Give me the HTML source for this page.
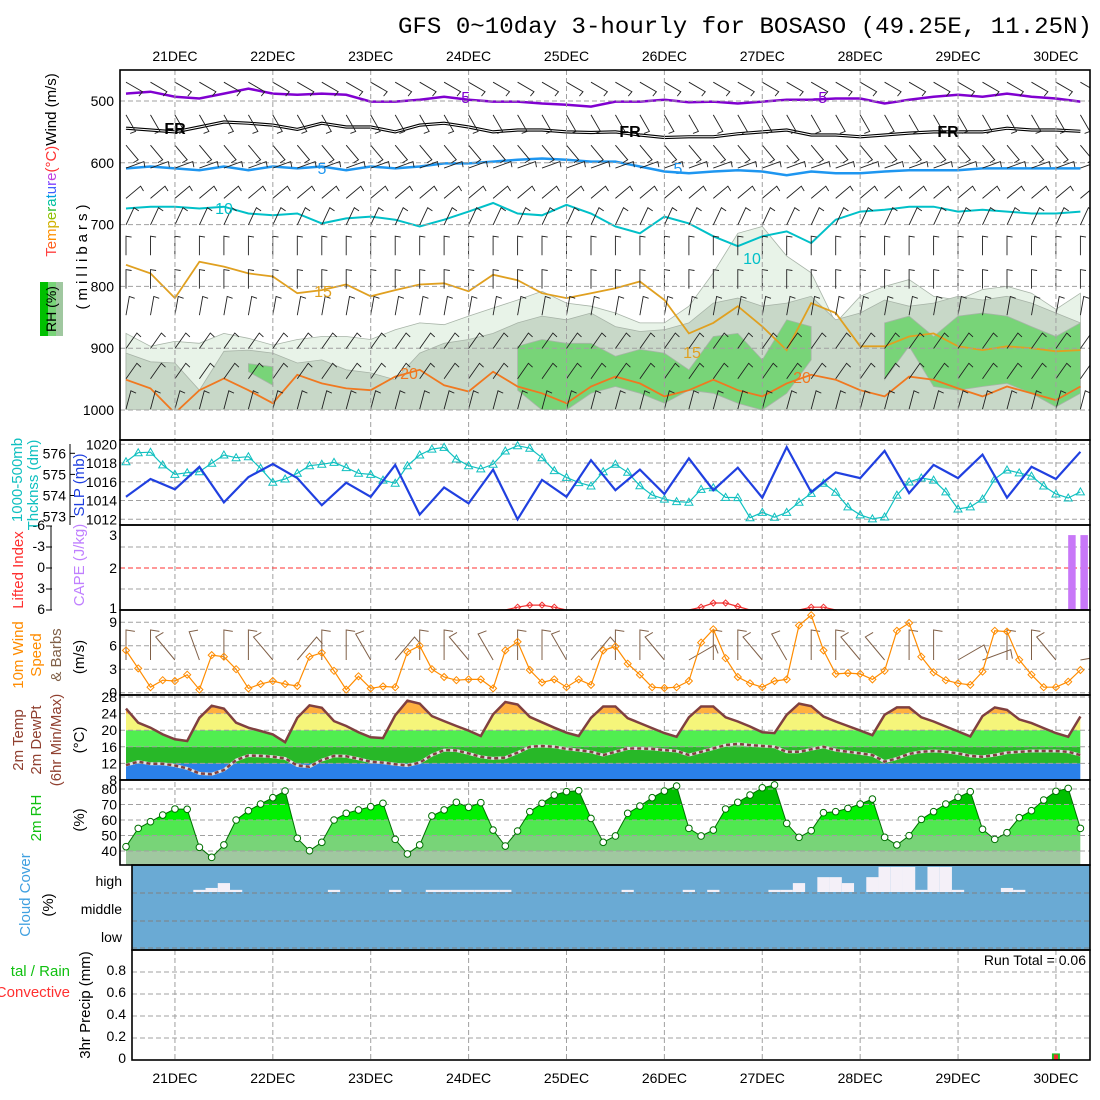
<!DOCTYPE html>
<html><head><meta charset="utf-8"><style>
html,body{margin:0;padding:0;background:#fff;}
svg{display:block;font-family:"Liberation Sans",sans-serif;}
</style></head><body>
<svg id="chart" width="1100" height="1100" viewBox="0 0 1100 1100" xmlns="http://www.w3.org/2000/svg">
<text x="398" y="33" font-family="Liberation Mono, monospace" font-size="23" textLength="694" lengthAdjust="spacingAndGlyphs">GFS 0~10day 3-hourly for BOSASO (49.25E, 11.25N)</text>
<g id="layer"></g>
</svg>
<script>
// ---------- data ----------
const dateLabels=["21DEC","22DEC","23DEC","24DEC","25DEC","26DEC","27DEC","28DEC","29DEC","30DEC"];
const temp=[25.2,21.8,20.6,19,17.8,17.4,23,25.9,25.2,21.8,20.6,19.8,19,17.1,23,26,25.4,22.2,21,19.5,18.3,18.1,23.6,27.1,26.4,23.4,22.2,21,19.9,18.6,23.8,26.8,26.2,23.2,21.9,20.6,19.4,18.6,23,25.7,25.7,22.9,21.7,20.5,19.3,18.4,23.1,25.7,25.7,23.1,22.1,20.9,19.5,19.3,23.7,26.4,25.8,23.3,22.1,21,19.9,18.8,23.7,25.5,25.5,23.1,22.1,20.9,19.7,18.5,23.4,25.5,24.9,22.6,21.7,20.5,19.3,18.4,23.3];
const dewpt=[11.6,12.4,11.9,11.9,11.5,10.8,9.6,9.4,10.4,12.8,13.9,13.8,13.6,13.2,11.5,11.2,12.8,13.8,13.7,13.1,12.4,12.2,11.8,11.5,12.2,14,15.2,15.1,14.4,13.6,13.2,13.4,14.6,16,16.2,16,15.5,15.2,14.8,14,14.8,15.6,15.6,15.5,15.2,15,14,14.8,15.6,16.4,16.7,16.4,16.2,16,14.8,14.8,15.4,16,15.2,14.8,14.4,14,12.4,13.2,14.3,14.8,15,14.8,14.4,13.8,13.6,14,14.6,14.8,15,15,15,14.8,14];
const rh2m=[42.8,54.6,58.9,63.2,67.1,66.9,42.4,35.9,43.9,60,66,70.3,74.4,78.7,48.2,40.2,45.6,60,64.3,66.5,68.6,70.8,47.5,38.1,43.9,62.6,66.5,71.4,68.2,71.2,53.5,43.2,52.9,65.4,70.8,76.1,78.3,78.9,61,45.6,49.7,64.3,69,74.4,78.7,81.9,54.6,49.7,53.5,67.1,71.4,76.1,80.8,82.6,57.8,48.8,53.1,64.7,65.4,67.5,70.3,73.5,48.8,43.9,49.9,60.4,65.4,70.3,74.6,78.3,54,47.5,51.8,61.5,66,72.9,78.5,80.4,54.6];
const wspd=[5.4,3.1,0.7,1.6,1.5,2.3,0.4,4.8,4.6,3,0.55,1.1,1.5,1.1,0.85,4.6,5.1,2.8,0.4,2.1,0.55,0.8,0.7,5.2,6,3,2,1.6,1.7,1.7,0.55,5.4,6.5,2.9,1.3,1.7,0.7,1.7,1,5.4,5.9,3.7,2.3,0.7,0.6,0.7,1.5,6.4,8.1,4.4,2,1.2,0.7,1.5,1.7,8.6,9.9,5.4,2.4,2.5,2.4,1.7,2.8,7.9,8.9,4.6,2.6,1.6,1.2,1,2.7,7.9,7.8,4.2,2.3,0.7,0.7,1.4,2.9];
const wdir10=[0,0,-40,-20,0,0,-40,40,0,0,-30,40,0,0,-40,-30,0,0,-30,40,0,0,-40,60,0,0,-40,-30,0,0,-40,-40,0,0,60,70,0,0,-40,80];
const slp=[1014.4,1016.3,1015.2,1017.6,1013.8,1016.5,1017.9,1016.4,1013.5,1015.9,1014.4,1017.8,1012.5,1015.4,1013.7,1017.3,1012.0,1016.2,1014.4,1018.3,1015.1,1017.3,1014.7,1018.5,1015.1,1017.5,1014.3,1019.7,1014.9,1017.0,1016.4,1019.3,1014.8,1017.8,1016.4,1018.9,1014.3,1017.6,1016.3,1019.2];
const thick=[575.6,576.03,576.05,575.45,575.0,575.08,575.13,575.53,575.92,575.79,575.84,575.29,574.63,574.78,575.05,575.41,575.48,575.57,575.32,575.05,575.0,574.73,574.58,575.41,575.92,576.2,576.28,575.73,575.41,575.26,575.48,576.11,576.36,576.24,575.79,575.18,574.86,574.61,574.45,575.13,575.48,575.1,574.46,574.02,573.83,573.71,573.68,574.29,574.37,573.91,573.9,572.95,573.2,572.97,573.2,573.68,574.1,574.58,574.15,573.46,573.08,572.89,572.98,574.02,574.64,574.83,574.73,574.17,573.36,573.46,573.83,574.78,575.21,575.07,574.92,574.45,574.07,573.88,574.17];
const liftedIdx=[6,6,6,6,6,6,6,6,6,6,6,6,6,6,6,6,6,6,6,6,6,6,6,6,6,6,6,6,6,6,6,6,6,6,6,6,6,6,6,6,6,6,6,6,6,6,6,6,6,6,6,6,6,6,6,6,6,6,6,6,6,6,6,6,6,6,6,6,6,6,6,6,6,6,6,6,6,6,6];
const liBumps={32:5.6,33:5.3,34:5.3,35:5.6,47:5.6,48:5.0,49:5.0,50:5.5,56:5.6,57:5.6};
for(const k in liBumps){liftedIdx[k]=liBumps[k];}
const cape=[0,0,0,0,0,0,0,0,0,0,0,0,0,0,0,0,0,0,0,0,0,0,0,0,0,0,0,0,0,0,0,0,0,0,0,0,0,0,0,0,0,0,0,0,0,0,0,0,0,0,0,0,0,0,0,0,0,0,0,0,0,0,0,0,0,0,0,0,0,0,0,0,0,0,0,0,0,3,3];
const cloudGap=[0,0,0,0,0,0,8,15,33,8,0,0,0,0,0,0,0,8,0,0,0,0,8,0,0,8,8,8,8,8,8,8,0,0,0,0,0,0,0,0,0,8,0,0,0,0,8,0,8,0,0,0,0,8,8,33,0,55,55,33,0,55,93,93,93,8,93,93,8,0,0,0,15,8,0,0,0,0,0];
const precipTot=[0,0,0,0,0,0,0,0,0,0,0,0,0,0,0,0,0,0,0,0,0,0,0,0,0,0,0,0,0,0,0,0,0,0,0,0,0,0,0,0,0,0,0,0,0,0,0,0,0,0,0,0,0,0,0,0,0,0,0,0,0,0,0,0,0,0,0,0,0,0,0,0,0,0,0,0,0.06,0,0];
const precipConv=[0,0,0,0,0,0,0,0,0,0,0,0,0,0,0,0,0,0,0,0,0,0,0,0,0,0,0,0,0,0,0,0,0,0,0,0,0,0,0,0,0,0,0,0,0,0,0,0,0,0,0,0,0,0,0,0,0,0,0,0,0,0,0,0,0,0,0,0,0,0,0,0,0,0,0,0,0.05,0,0];
const rh30Top=[876,897,889,892,876,884,895,886,881,881,886,870,859,862,848,835,822,808,827,832,843,859,859,832,778,714,703,751,778,859,816,800,789,816,822,805,800,811,837,811];
const rh50Top=[908,922,924,968,905,903,908,924,919,935,940,951,908,892,886,876,859,848,854,843,865,873,870,859,827,819,832,827,816,854,843,822,832,827,816,822,816,827,843,859];
const rh70Top=[null,null,null,null,null,925,930,null,null,null,null,null,null,null,null,null,897,886,892,892,913,902,908,935,881,876,919,854,865,null,null,859,848,881,848,843,848,865,881,859];
const rh70Bot=[null,null,null,null,null,938,960,null,null,null,null,null,null,null,null,null,968,1000,1000,973,962,973,989,968,973,989,1000,973,919,null,null,951,897,962,968,962,957,973,995,973];
const isoM5=[488,485,493,496,488,480,488,490,488,490,501,501,498,493,498,501,501,504,506,509,501,501,498,502,501,504,501,498,498,496,496,504,498,493,490,493,488,493,496,501];
const isoFR=[544,547,550,542,534,536,539,546,536,542,542,550,539,536,542,550,547,547,550,551,550,555,559,558,558,553,550,547,555,555,558,555,552,550,550,550,544,547,547,549];
const iso5=[609,606,609,612,606,612,606,609,606,612,606,609,606,601,601,598,595,593,595,598,598,606,614,617,614,612,614,620,614,617,617,614,612,612,612,609,609,609,609,609];
const iso10=[674,671,671,674,671,682,685,682,698,690,687,692,703,692,679,665,682,685,668,682,703,714,687,698,719,735,719,711,730,692,679,676,671,671,679,676,679,682,682,679];
const iso15=[765,779,819,760,768,779,784,811,806,797,816,806,797,795,808,781,790,811,819,811,803,792,822,876,859,832,865,903,827,843,897,897,881,876,897,903,897,900,905,903];
const iso20=[951,965,1005,968,949,968,989,943,957,965,968,946,935,960,970,938,962,973,989,962,946,957,978,968,951,968,978,957,943,951,968,978,946,951,965,978,962,973,984,962];
const barbLevels=[455,508,557,594,643,686,735,789,832,886,935,984];
const barbAngles=[120,150,140,70,50,25,0,0,10,35,35,15];
const pTicks=[500,600,700,800,900,1000];
const slpTicks=[1020,1018,1016,1014,1012];
const thTicks=[576,575,574,573];
const liTicks=[-6,-3,0,3,6];
const wsTicks=[9,6,3,0];
const tTicks=[28,24,20,16,12,8];
const rhTicks=[80,70,60,50,40];
const prTicks=[0.8,0.6,0.4,0.2,0];

// ---------- scales ----------
const X=i=>126+12.236*i;
const XK=k=>X(2*k);
const yP=p=>101+(p-500)*0.618;
const ySLP=v=>444.3+(1020-v)*9.375;
const yTh=v=>453.3+(576-v)*21.1;
const yLI=v=>526+(v+6)*7;
const yCape=v=>610-Math.log10(Math.max(v,1))*157;
const yWS=v=>692.7-v*7.83;
const yT=v=>780-(v-8)*4.15;
const yRH=v=>789-(v-80)*1.55;
const yPr=v=>1060-v*110;
const XL=120,XR=1090;

const NS="http://www.w3.org/2000/svg";
const root=document.getElementById('layer');
function mk(tag,attrs,parent){const e=document.createElementNS(NS,tag);for(const k in attrs)e.setAttribute(k,attrs[k]);(parent||root).appendChild(e);return e;}
function pts(arr){return arr.map(p=>p[0].toFixed(1)+','+p[1].toFixed(1)).join(' ');}

const defs=mk('defs',{});
function clipRect(id,x,y,w,h){const c=mk('clipPath',{id:id},defs);mk('rect',{x:x,y:y,width:w,height:h},c);}
clipRect('cp1',XL,70,XR-XL,340);
clipRect('cp1b',XL,70,XR-XL,370);
clipRect('cp2',XL,440,XR-XL,85);
clipRect('cp3',XL,525,XR-XL,85);
clipRect('cp4',XL,610,XR-XL,85);

// ---------- panel 1 ----------
const g1=mk('g',{'clip-path':'url(#cp1)'});


function bandPoly(top,bot,color,name){
  let seg=[];
  const flush=()=>{ if(seg.length>1){const up=seg.map(k=>[XK(k),yP(top[k])]);const dn=seg.slice().reverse().map(k=>[XK(k),yP(bot?bot[k]:1000)]);
    const p=mk('polygon',{points:pts(up.concat(dn)),fill:color,stroke:'#a8b4a8','stroke-width':0.8},g1);
    
    } seg=[];};
  for(let k=0;k<top.length;k++){ if(top[k]==null){flush();} else seg.push(k);} flush();
}
bandPoly(rh30Top,null,'#e8f3e8','rh-30-band');
bandPoly(rh50Top,null,'#c8d8c8','rh-50-band');
bandPoly(rh70Top,rh70Bot,'#78d478','rh-70-band');

for(const p of pTicks){const l=mk('line',{x1:XL,x2:XR,y1:yP(p),y2:yP(p),stroke:'#a0a0a0','stroke-dasharray':'5,3'});

}

function iso(arr,color,w,name,dbl){
  const p=arr.map((v,k)=>[XK(k),yP(v)]);
  if(dbl){const a=mk('polyline',{points:pts(p),fill:'none',stroke:'#000','stroke-width':3.2},g1);
    const b=mk('polyline',{points:pts(p),fill:'none',stroke:'#fff','stroke-width':1},g1);return;}
  const l=mk('polyline',{points:pts(p),fill:'none',stroke:color,'stroke-width':w},g1);
  
  
}
iso(isoM5,'#8000d0',2.5,'isotherm-minus5');
iso(isoFR,'#000',2,'isotherm-freezing',true);
iso(iso5,'#1e96f0',2.5,'isotherm-5');
iso(iso10,'#00c0c8',2,'isotherm-10');
iso(iso15,'#e0a020',1.8,'isotherm-15');
iso(iso20,'#f07820',1.8,'isotherm-20');

function barb(parent,x,y,ang,len,color,w,tk){
  const a=ang*Math.PI/180;const ex=x+Math.sin(a)*len, ey=y-Math.cos(a)*len;
  const ta=a+Math.PI/2*1.1;const tx=ex+Math.sin(ta)*len*tk, ty=ey-Math.cos(ta)*len*tk;
  return mk('polyline',{points:pts([[x,y],[ex,ey],[tx,ty]]),fill:'none',stroke:color,'stroke-width':w},parent);
}
const gb=mk('g',{'clip-path':'url(#cp1b)'});


for(let li=0;li<barbLevels.length;li++){for(let k=0;k<40;k++){
  const b=barb(gb,XK(k),yP(barbLevels[li])+9,barbAngles[li],19,'#202020',0.9,0.3);
  
  
}}

const cLabels=[["-5",463,97,'#8000d0'],["-5",820,97,'#8000d0'],["FR",175,128,'#000'],["FR",630,131,'#000'],["FR",948,131,'#000'],["5",322,168,'#1e96f0'],["5",678,168,'#1e96f0'],["10",224,208,'#00c0c8'],["10",752,258,'#00c0c8'],["15",323,291,'#e0a020'],["15",692,352,'#e0a020'],["20",409,373,'#f07820'],["20",802,377,'#f07820']];
for(const c of cLabels){const t=mk('text',{x:c[1],y:c[2]+6,'font-size':16,fill:c[3],'text-anchor':'middle','font-weight':c[0]=='FR'?'bold':'normal'});t.textContent=c[0];

}

// ---------- date gridlines ----------
for(let d=0;d<dateLabels.length;d++){
  const x=X(4+8*d);
  const l=mk('line',{x1:x,x2:x,y1:70,y2:1060,stroke:'#a0a0a0','stroke-dasharray':'5,3'});
  
  
  const t=mk('text',{x:x,y:61,'font-size':14,'text-anchor':'middle'});t.textContent=dateLabels[d];
  
  
  const t2=mk('text',{x:x,y:1083,'font-size':14,'text-anchor':'middle'});t2.textContent=dateLabels[d];
  
  
}

function hgrid(y,x1,color,dash){const l=mk('line',{x1:x1||XL,x2:XR,y1:y,y2:y,stroke:color||'#a0a0a0','stroke-dasharray':dash||'5,3'});

}
function tick(txt,x,y,anchor,size,color){const t=mk('text',{x:x,y:y+5,'font-size':size||14,'text-anchor':anchor||'end',fill:color||'#000'});t.textContent=txt;

return t;}
function vlabel(txt,x,cy,color,size,spacing){const t=mk('text',{x:0,y:0,'font-size':size||15,'text-anchor':'middle',fill:color||'#000',transform:'translate('+x+','+cy+') rotate(-90)'});
if(spacing)t.setAttribute('letter-spacing',spacing);t.textContent=txt;

return t;}

for(const p of pTicks){tick(String(p),114,yP(p));}

// ---------- panel 2 ----------
for(const v of slpTicks){hgrid(ySLP(v));tick(String(v),117,ySLP(v));}
for(const v of thTicks){tick(String(v),66,yTh(v));const tk=mk('line',{x1:70,x2:75,y1:yTh(v),y2:yTh(v),stroke:'#000'});}
const thAxis=mk('line',{x1:70,x2:70,y1:444,y2:525,stroke:'#000'});


const g2=mk('g',{'clip-path':'url(#cp2)'});
const thLine=mk('polyline',{points:pts(thick.map((v,i)=>[X(i),yTh(v)])),fill:'none',stroke:'#10c0c0','stroke-width':1.2},g2);


for(let i=0;i<thick.length;i++){const x=X(i),y=yTh(thick[i]);
  const m=mk('polygon',{points:pts([[x,y-4],[x-4,y+3],[x+4,y+3]]),fill:'none',stroke:'#10c0c0','stroke-width':1},g2);
  
  }
const slpLine=mk('polyline',{points:pts(slp.map((v,k)=>[XK(k),ySLP(v)])),fill:'none',stroke:'#2040e0','stroke-width':2.2},g2);



// ---------- panel 3 ----------
hgrid(547);hgrid(589);hgrid(yLI(0),XL,'#ff3030','5,3');
tick("3",117,535);tick("2",117,568);tick("1",117,608);
for(const v of liTicks){tick(String(v),45,yLI(v)-1);const tk=mk('line',{x1:46,x2:52,y1:yLI(v),y2:yLI(v),stroke:'#000'});}
const liAxis=mk('line',{x1:51,x2:51,y1:526,y2:610,stroke:'#000'});


const g3=mk('g',{'clip-path':'url(#cp3)'});
for(let i=0;i<cape.length;i++){if(cape[i]>1){const r=mk('rect',{x:X(i),y:yCape(cape[i]),width:7.5,height:610-yCape(cape[i]),fill:'#c878f8'},g3);

}}
{let seg=[];const flush=()=>{if(seg.length>1){const l=mk('polyline',{points:pts(seg),fill:'none',stroke:'#f03030','stroke-width':1.2},g3);}seg=[];};
for(let i=0;i<liftedIdx.length;i++){if(liftedIdx[i]<6){if(!seg.length)seg.push([X(i-1),yLI(6)]);seg.push([X(i),yLI(liftedIdx[i])]);
 const m=mk('polygon',{points:pts([[X(i),yLI(liftedIdx[i])-3],[X(i)+3,yLI(liftedIdx[i])],[X(i),yLI(liftedIdx[i])+3],[X(i)-3,yLI(liftedIdx[i])]]),fill:'none',stroke:'#f03030'},g3);
 
 
}else{if(seg.length){seg.push([X(i),yLI(6)]);flush();}}}flush();}

// ---------- panel 4 ----------
for(const v of wsTicks){hgrid(yWS(v));tick(String(v),117,yWS(v));}
const g4=mk('g',{'clip-path':'url(#cp4)'});
for(let k=0;k<40;k++){const b=barb(g4,XK(k),660,wdir10[k],30,'#806048',1,0.3);

}
const wsLine=mk('polyline',{points:pts(wspd.map((v,i)=>[X(i),yWS(v)])),fill:'none',stroke:'#ff8c00','stroke-width':1.2},g4);


for(let i=0;i<wspd.length;i++){const x=X(i),y=yWS(wspd[i]);const m=mk('polygon',{points:pts([[x,y-3.5],[x+3.5,y],[x,y+3.5],[x-3.5,y]]),fill:'none',stroke:'#ff8c00','stroke-width':1},g4);

}

// ---------- panel 5 ----------
{const c=mk('clipPath',{id:'tclip'},defs);
 mk('polygon',{points:pts(temp.map((v,i)=>[X(i),yT(v)]).concat([[X(temp.length-1),780],[X(0),780]]))},c);}
const tBands=[[8,12,'#2a80e8'],[12,16,'#28b828'],[16,20,'#50ee50'],[20,24,'#f5f57a'],[24,32,'#ffb040']];
for(const b of tBands){const r=mk('rect',{x:X(0),y:yT(b[1]),width:X(temp.length-1)-X(0),height:yT(b[0])-yT(b[1]),fill:b[2],'clip-path':'url(#tclip)'});

}
for(const v of tTicks){hgrid(yT(v));tick(String(v),117,yT(v));}
const tLine=mk('polyline',{points:pts(temp.map((v,i)=>[X(i),yT(v)])),fill:'none',stroke:'#804040','stroke-width':2.5});


const dU=mk('polyline',{points:pts(dewpt.map((v,i)=>[X(i),yT(v)])),fill:'none',stroke:'#e0e0e0','stroke-width':3});


const dLine=mk('polyline',{points:pts(dewpt.map((v,i)=>[X(i),yT(v)])),fill:'none',stroke:'#804040','stroke-width':2.5,'stroke-dasharray':'4,3'});



// ---------- panel 6 ----------
{const c=mk('clipPath',{id:'rhclip'},defs);
 mk('polygon',{points:pts(rh2m.map((v,i)=>[X(i),yRH(v)]).concat([[X(rh2m.length-1),865],[X(0),865]]))},c);}
const rhBands=[[0,40,'#a0c8a0'],[40,50,'#78d478'],[50,60,'#50e850'],[60,70,'#00f000'],[70,100,'#00c000']];
for(const b of rhBands){const r=mk('rect',{x:X(0),y:yRH(b[1]),width:X(rh2m.length-1)-X(0),height:yRH(b[0])-yRH(b[1]),fill:b[2],'clip-path':'url(#rhclip)'});

}
for(const v of rhTicks){hgrid(yRH(v));tick(String(v),117,yRH(v));}
const rhLine=mk('polyline',{points:pts(rh2m.map((v,i)=>[X(i),yRH(v)])),fill:'none',stroke:'#007000','stroke-width':1});


for(let i=0;i<rh2m.length;i++){const m=mk('circle',{cx:X(i),cy:yRH(rh2m[i]),r:3.3,fill:'#fff',stroke:'#007000','stroke-width':1});

}

// ---------- panel 7 ----------
const cbg=mk('rect',{x:132,y:865,width:XR-132,height:85,fill:'#6aaad4'});


for(let i=0;i<cloudGap.length;i++){if(cloudGap[i]>0){const h=cloudGap[i]/100*27;const r=mk('rect',{x:X(i)-6.12,y:892-h,width:12.24,height:h,fill:'#f4f0f8'});

}}
hgrid(893,132,'#808080');hgrid(921,132,'#808080');hgrid(948,132,'#808080');
tick("high",122,881);tick("middle",122,909);tick("low",122,937);

// ---------- panel 8 ----------
for(const v of prTicks){if(v>0)hgrid(yPr(v),132);tick(String(v),126,yPr(v)-2);}
for(let i=0;i<precipTot.length;i++){if(precipTot[i]>0){
  const r=mk('rect',{x:X(i)-4,y:yPr(precipTot[i]),width:8,height:1060-yPr(precipTot[i]),fill:'#20c020'});
  
  
  const c=mk('rect',{x:X(i)-2,y:yPr(precipConv[i]),width:4,height:1060-yPr(precipConv[i]),fill:'#f03030'});
  
  }}
const rt=mk('text',{x:1086,y:965,'font-size':14,'text-anchor':'end'});rt.textContent="Run Total = 0.06";



// ---------- frames ----------
const frames=[[XL,70,440],[XL,440,525],[XL,525,610],[XL,610,695],[XL,695,780],[XL,780,865],[132,865,950],[132,950,1060]];
for(const f of frames){const r=mk('rect',{x:f[0],y:f[1],width:XR-f[0],height:f[2]-f[1],fill:'none',stroke:'#000','stroke-width':1.6});

}

// ---------- axis titles ----------
{const t=mk('text',{x:0,y:0,'font-size':15,'text-anchor':'middle',transform:'translate(56,165) rotate(-90)'});
 
 
 const cols=['#ff4040','#ff6020','#ff9000','#d0b000','#90c000','#30c030','#00c0a0','#00a0e0','#4060ff','#8040ff','#c040e0'];
 const word="Temperature";
 for(let i=0;i<word.length;i++){const s=mk('tspan',{fill:cols[i]},t);s.textContent=word[i];}
 const s2=mk('tspan',{fill:'#ff3030'},t);s2.textContent="(°C)";
 const s3=mk('tspan',{fill:'#000'},t);s3.textContent="Wind (m/s)";}
const rhBox=mk('rect',{x:40,y:282,width:23,height:54,fill:'#78d478'});


const rhBox2=mk('rect',{x:40,y:282,width:8,height:54,fill:'#00c000'});


const rhBox3=mk('rect',{x:56,y:282,width:7,height:54,fill:'#a0c8a0'});


vlabel("RH (%)",56,309,'#000',14);
vlabel("(millibars)",87,255,'#000',15,'4');
vlabel("1000-500mb",22,480,'#10c0c0',15);
vlabel("Thcknss (dm)",38,485,'#10c0c0',15);
vlabel("SLP (mb)",84,485,'#2040e0',15);
vlabel("Lifted Index",23,570,'#ff3030',15);
vlabel("CAPE (J/kg)",84,565,'#c080ff',15);
vlabel("10m Wind",23,655,'#ff8c00',15);
vlabel("Speed",41,655,'#ff8c00',15);
vlabel("& Barbs",61,655,'#806048',15);
vlabel("(m/s)",84,657,'#000',15);
vlabel("2m Temp",23,740,'#904030',15);
vlabel("2m DewPt",41,740,'#904030',15);
vlabel("(6hr Min/Max)",61,740,'#904030',15);
vlabel("(°C)",84,740,'#000',15);
vlabel("2m RH",41,818,'#10c010',15);
vlabel("(%)",84,820,'#000',15);
vlabel("Cloud Cover",30,895,'#40a0e0',15);
vlabel("(%)",53,905,'#000',15);
vlabel("3hr Precip (mm)",90,1005,'#000',15);
{const t=mk('text',{x:70,y:976,'font-size':15,'text-anchor':'end',fill:'#10c010'});t.textContent="tal / Rain";


const t2=mk('text',{x:70,y:997,'font-size':15,'text-anchor':'end',fill:'#ff3030'});t2.textContent="Convective";

}
</script>
</body></html>
